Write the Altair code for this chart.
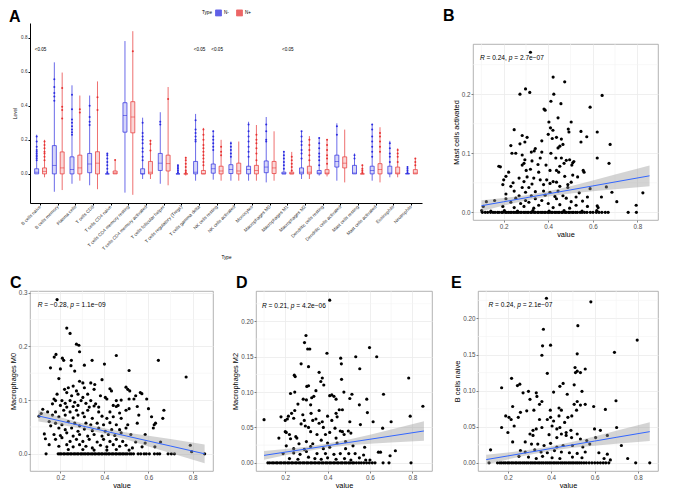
import altair as alt
import pandas as pd

FONT = "Liberation Sans"
BLUE = "#2b2be0"
RED = "#e63232"

# ---------------- Panel A data ----------------
cells = ["B cells naive", "B cells memory", "Plasma cells", "T cells CD8", "T cells CD4 naive",
         "T cells CD4 memory resting", "T cells CD4 memory activated", "T cells follicular helper",
         "T cells regulatory (Tregs)", "T cells gamma delta", "NK cells resting", "NK cells activated",
         "Monocytes", "Macrophages M0", "Macrophages M1", "Macrophages M2", "Dendritic cells resting",
         "Dendritic cells activated", "Mast cells resting", "Mast cells activated", "Eosinophils", "Neutrophils"]
groups = ["N-", "N+"]

neg_lo = [0.0, -0.105, -0.058, -0.067, 0.0, -0.11, -0.03, -0.058, 0.0, -0.04, -0.034, -0.04, -0.04, -0.05, 0.0, -0.03, -0.01, -0.04, 0.0, -0.04, -0.02, 0.0]
neg_q1 = [0.0, 0.0, 0.0, 0.007, 0.0, 0.245, 0.0, 0.02, 0.0, 0.0, 0.004, 0.002, 0.0, 0.007, 0.0, 0.0, 0.0, 0.04, 0.0, 0.0, 0.0, 0.0]
neg_med = [0.01, 0.05, 0.026, 0.058, 0.0, 0.343, 0.0, 0.063, 0.0, 0.01, 0.03, 0.026, 0.026, 0.04, 0.0, 0.01, 0.005, 0.073, 0.005, 0.02, 0.005, 0.0]
neg_q3 = [0.03, 0.166, 0.1, 0.12, 0.0, 0.418, 0.03, 0.12, 0.0, 0.073, 0.058, 0.054, 0.045, 0.076, 0.01, 0.035, 0.02, 0.11, 0.05, 0.045, 0.045, 0.002]
neg_hi = [0.23, 0.655, 0.52, 0.46, 0.12, 0.78, 0.33, 0.362, 0.054, 0.352, 0.254, 0.19, 0.306, 0.334, 0.129, 0.25, 0.213, 0.297, 0.12, 0.293, 0.194, 0.045]

pos_lo = [-0.02, -0.095, -0.04, -0.09, 0.0, -0.123, -0.03, -0.067, -0.01, 0.0, -0.04, -0.04, -0.04, -0.04, 0.0, -0.03, -0.015, -0.05, 0.0, -0.05, -0.02, 0.0]
pos_q1 = [0.0, 0.0, 0.0, 0.0, 0.0, 0.241, 0.0, 0.017, 0.0, 0.0, 0.0, 0.0, 0.0, 0.002, 0.0, 0.0, 0.0, 0.035, 0.0, 0.0, 0.0, 0.0]
pos_med = [0.015, 0.035, 0.035, 0.063, 0.005, 0.334, 0.01, 0.06, 0.0, 0.0, 0.017, 0.017, 0.02, 0.035, 0.0, 0.01, 0.005, 0.063, 0.0, 0.026, 0.005, 0.005]
pos_q3 = [0.035, 0.129, 0.11, 0.13, 0.017, 0.424, 0.073, 0.11, 0.0, 0.02, 0.045, 0.063, 0.05, 0.073, 0.01, 0.045, 0.025, 0.1, 0.0, 0.06, 0.04, 0.025]
pos_hi = [0.2, 0.595, 0.46, 0.543, 0.082, 0.838, 0.2, 0.51, 0.1, 0.27, 0.2, 0.19, 0.287, 0.25, 0.129, 0.222, 0.2, 0.26, 0.054, 0.274, 0.15, 0.09]

neg_out = [
    [0.08, 0.09, 0.1, 0.11, 0.12, 0.13, 0.14, 0.16, 0.19, 0.22],
    [0.43, 0.455, 0.475, 0.51, 0.555],
    [0.23, 0.245, 0.26, 0.28, 0.3, 0.32, 0.38, 0.465],
    [0.287, 0.306, 0.334, 0.4],
    [0.01, 0.03, 0.05, 0.07, 0.09, 0.11, 0.12],
    [],
    [0.08, 0.1, 0.13, 0.15, 0.18, 0.2, 0.22, 0.24, 0.3],
    [0.29, 0.306],
    [0.01, 0.02, 0.03, 0.04, 0.05],
    [0.19, 0.2, 0.22, 0.24, 0.26, 0.315],
    [0.14, 0.16, 0.18, 0.2, 0.22, 0.25],
    [0.1, 0.12, 0.14, 0.16, 0.18],
    [0.1, 0.13, 0.16, 0.19, 0.22, 0.25, 0.29],
    [0.19, 0.2, 0.25, 0.29],
    [0.03, 0.05, 0.07, 0.09, 0.11, 0.13],
    [0.09, 0.12, 0.14, 0.17, 0.19, 0.22, 0.25],
    [0.05, 0.08, 0.1, 0.12, 0.15, 0.18, 0.21],
    [0.23, 0.28],
    [0.09, 0.11],
    [0.1, 0.13, 0.16, 0.19, 0.22, 0.26, 0.29],
    [0.07, 0.1, 0.12, 0.15, 0.18],
    [0.01, 0.02, 0.03, 0.04],
]
pos_out = [
    [0.08, 0.1, 0.12, 0.13, 0.15, 0.17, 0.19],
    [0.325, 0.375, 0.394, 0.505],
    [0.36, 0.38],
    [0.375, 0.45],
    [0.082],
    [0.72],
    [0.138, 0.175, 0.194],
    [0.44],
    [0.01, 0.02, 0.04, 0.06, 0.08, 0.095],
    [0.05, 0.07, 0.09, 0.11, 0.13, 0.15, 0.17, 0.2, 0.23, 0.26],
    [0.11, 0.13, 0.16],
    [],
    [0.08, 0.12, 0.15, 0.18, 0.2, 0.23],
    [],
    [0.02, 0.04, 0.06, 0.08, 0.1],
    [0.08, 0.11, 0.14, 0.17, 0.2],
    [0.06, 0.09, 0.11, 0.14, 0.17, 0.2],
    [],
    [0.01, 0.02, 0.03, 0.05],
    [0.13, 0.16, 0.19, 0.22, 0.24],
    [0.07, 0.1, 0.12, 0.14],
    [0.05, 0.07, 0.09],
]

p_cells = ["B cells naive", "T cells gamma delta", "NK cells resting", "Macrophages M1"]
p_text = ["<0.05", "<0.05", "<0.05", "<0.05"]
p_y = [0.73, 0.73, 0.73, 0.73]

# ---------------- Panels B-E data ----------------
b_pts = [
    (0.32, 0.271), (0.422, 0.229), (0.474, 0.221), (0.298, 0.209), (0.273, 0.200), (0.317, 0.203), (0.425, 0.200),
    (0.642, 0.198), (0.412, 0.188), (0.457, 0.184), (0.588, 0.178), (0.381, 0.175), (0.386, 0.173), (0.444, 0.160),
    (0.403, 0.153), (0.503, 0.153), (0.410, 0.143), (0.247, 0.140), (0.421, 0.139), (0.493, 0.136), (0.547, 0.137),
    (0.620, 0.136), (0.400, 0.132), (0.490, 0.141), (0.283, 0.130), (0.305, 0.127), (0.573, 0.128), (0.418, 0.125),
    (0.437, 0.127), (0.459, 0.124), (0.371, 0.121), (0.295, 0.119), (0.547, 0.119), (0.678, 0.115), (0.232, 0.113),
    (0.273, 0.116), (0.466, 0.115), (0.452, 0.112), (0.342, 0.108), (0.444, 0.109), (0.237, 0.100), (0.254, 0.100),
    (0.283, 0.097), (0.324, 0.102), (0.371, 0.102), (0.337, 0.104), (0.364, 0.092), (0.412, 0.100), (0.434, 0.092),
    (0.459, 0.092), (0.295, 0.089), (0.327, 0.087), (0.481, 0.088), (0.496, 0.089), (0.620, 0.092), (0.291, 0.083),
    (0.283, 0.080), (0.390, 0.080), (0.471, 0.083), (0.510, 0.084), (0.515, 0.086), (0.673, 0.083), (0.178, 0.078),
    (0.185, 0.077), (0.354, 0.081), (0.452, 0.078), (0.506, 0.080), (0.301, 0.071), (0.320, 0.073), (0.357, 0.068),
    (0.222, 0.068), (0.437, 0.071), (0.408, 0.071), (0.447, 0.068), (0.557, 0.071), (0.561, 0.068), (0.510, 0.063),
    (0.474, 0.061), (0.532, 0.060), (0.210, 0.061), (0.269, 0.058), (0.305, 0.060), (0.335, 0.058), (0.364, 0.055),
    (0.393, 0.055), (0.422, 0.052), (0.200, 0.055), (0.196, 0.047), (0.242, 0.050), (0.291, 0.052), (0.327, 0.048),
    (0.379, 0.047), (0.408, 0.049), (0.437, 0.051), (0.488, 0.047), (0.503, 0.051), (0.232, 0.044), (0.283, 0.042),
    (0.313, 0.042), (0.452, 0.044), (0.488, 0.042), (0.588, 0.040), (0.661, 0.043), (0.247, 0.036), (0.298, 0.034),
    (0.342, 0.035), (0.379, 0.036), (0.408, 0.034), (0.444, 0.036), (0.539, 0.033), (0.686, 0.034), (0.825, 0.033),
    (0.210, 0.031), (0.269, 0.028), (0.324, 0.028), (0.386, 0.029), (0.430, 0.027), (0.466, 0.028), (0.525, 0.026),
    (0.576, 0.026), (0.639, 0.026), (0.159, 0.020), (0.210, 0.023), (0.254, 0.024), (0.298, 0.020), (0.342, 0.023),
    (0.371, 0.020), (0.437, 0.023), (0.481, 0.024), (0.503, 0.018), (0.554, 0.019), (0.708, 0.018), (0.122, 0.018),
    (0.232, 0.017), (0.276, 0.015), (0.313, 0.017), (0.357, 0.012), (0.400, 0.015), (0.452, 0.013), (0.525, 0.012),
    (0.620, 0.011), (0.624, 0.008), (0.795, 0.012), (0.196, 0.010), (0.247, 0.008), (0.291, 0.010), (0.335, 0.007),
    (0.422, 0.008), (0.496, 0.007), (0.576, 0.010), (0.108, 0.010), (0.101, 0.003), (0.142, 0.002), (0.203, 0.003),
    (0.262, 0.002), (0.331, 0.003), (0.404, 0.002), (0.471, 0.003), (0.552, 0.002), (0.618, 0.003),
]
b_zero = [0.104, 0.117, 0.128, 0.141, 0.152, 0.161, 0.172, 0.179, 0.19, 0.196, 0.207, 0.213, 0.221, 0.229, 0.235,
          0.244, 0.251, 0.259, 0.265, 0.274, 0.28, 0.29, 0.296, 0.305, 0.311, 0.321, 0.326, 0.336, 0.342, 0.352,
          0.357, 0.367, 0.373, 0.382, 0.388, 0.398, 0.404, 0.413, 0.419, 0.429, 0.435, 0.444, 0.45, 0.46, 0.465,
          0.475, 0.481, 0.491, 0.497, 0.507, 0.513, 0.523, 0.531, 0.543, 0.552, 0.563, 0.574, 0.589, 0.601, 0.616,
          0.628, 0.641, 0.656, 0.669, 0.759, 0.796]
b_fit_x = [0.1, 0.2, 0.3, 0.4, 0.5, 0.6, 0.7, 0.855]
b_fit_y = [0.0112, 0.0179, 0.0246, 0.0313, 0.038, 0.0447, 0.0514, 0.0618]
b_lo = [0.0019, 0.0114, 0.0201, 0.0268, 0.032, 0.0357, 0.0389, 0.0443]
b_hi = [0.0205, 0.0244, 0.0291, 0.0358, 0.044, 0.0537, 0.0639, 0.0793]

c_pts = [
    (0.185, 0.287), (0.229, 0.234), (0.244, 0.224), (0.273, 0.204), (0.284, 0.202), (0.287, 0.190), (0.172, 0.180),
    (0.180, 0.185), (0.454, 0.183), (0.344, 0.174), (0.209, 0.178), (0.215, 0.174), (0.250, 0.174), (0.248, 0.164),
    (0.309, 0.165), (0.400, 0.167), (0.645, 0.174), (0.771, 0.143), (0.155, 0.160), (0.200, 0.158), (0.265, 0.154),
    (0.512, 0.155), (0.193, 0.140), (0.389, 0.138), (0.287, 0.135), (0.302, 0.132), (0.338, 0.132), (0.356, 0.129),
    (0.219, 0.120), (0.236, 0.123), (0.258, 0.126), (0.273, 0.117), (0.309, 0.123), (0.353, 0.120), (0.425, 0.121),
    (0.432, 0.117), (0.498, 0.124), (0.506, 0.120), (0.515, 0.117), (0.171, 0.102), (0.185, 0.111), (0.229, 0.114),
    (0.251, 0.108), (0.280, 0.111), (0.302, 0.105), (0.324, 0.111), (0.382, 0.108), (0.404, 0.105), (0.563, 0.114),
    (0.570, 0.112), (0.542, 0.108), (0.178, 0.099), (0.207, 0.099), (0.222, 0.094), (0.244, 0.099), (0.265, 0.096),
    (0.294, 0.099), (0.316, 0.094), (0.338, 0.099), (0.360, 0.093), (0.411, 0.102), (0.454, 0.099), (0.476, 0.100),
    (0.512, 0.102), (0.534, 0.102), (0.592, 0.102), (0.164, 0.093), (0.200, 0.090), (0.229, 0.087), (0.258, 0.088),
    (0.280, 0.090), (0.331, 0.087), (0.353, 0.089), (0.374, 0.087), (0.440, 0.090), (0.454, 0.088), (0.462, 0.090),
    (0.549, 0.088), (0.600, 0.084), (0.670, 0.081), (0.120, 0.083), (0.142, 0.078), (0.178, 0.078), (0.215, 0.081),
    (0.244, 0.078), (0.273, 0.081), (0.302, 0.076), (0.324, 0.081), (0.374, 0.078), (0.425, 0.078), (0.469, 0.076),
    (0.498, 0.081), (0.512, 0.084), (0.103, 0.070), (0.113, 0.075), (0.164, 0.072), (0.193, 0.069), (0.222, 0.072),
    (0.258, 0.067), (0.280, 0.072), (0.309, 0.069), (0.345, 0.066), (0.389, 0.070), (0.411, 0.066), (0.440, 0.069),
    (0.476, 0.066), (0.556, 0.072), (0.614, 0.069), (0.665, 0.066), (0.149, 0.060), (0.178, 0.057), (0.207, 0.054),
    (0.236, 0.060), (0.265, 0.057), (0.287, 0.052), (0.316, 0.057), (0.338, 0.054), (0.367, 0.057), (0.396, 0.054),
    (0.425, 0.058), (0.454, 0.054), (0.506, 0.054), (0.549, 0.057), (0.626, 0.054), (0.632, 0.057), (0.156, 0.052),
    (0.193, 0.048), (0.222, 0.045), (0.251, 0.048), (0.280, 0.042), (0.309, 0.046), (0.345, 0.043), (0.374, 0.048),
    (0.404, 0.042), (0.433, 0.045), (0.469, 0.045), (0.498, 0.048), (0.622, 0.048), (0.127, 0.037), (0.171, 0.036),
    (0.200, 0.034), (0.229, 0.039), (0.258, 0.033), (0.287, 0.036), (0.324, 0.033), (0.353, 0.036), (0.389, 0.033),
    (0.418, 0.036), (0.447, 0.034), (0.476, 0.039), (0.520, 0.036), (0.585, 0.036), (0.132, 0.028), (0.178, 0.027),
    (0.207, 0.030), (0.244, 0.023), (0.273, 0.027), (0.302, 0.023), (0.331, 0.027), (0.367, 0.022), (0.396, 0.027),
    (0.425, 0.023), (0.454, 0.027), (0.483, 0.023), (0.542, 0.022), (0.585, 0.020), (0.655, 0.022), (0.149, 0.017),
    (0.193, 0.014), (0.229, 0.017), (0.258, 0.013), (0.287, 0.017), (0.316, 0.014), (0.345, 0.011), (0.382, 0.016),
    (0.411, 0.013), (0.440, 0.017), (0.469, 0.014), (0.498, 0.016), (0.527, 0.011), (0.571, 0.013), (0.629, 0.013),
    (0.790, 0.016), (0.796, 0.004), (0.236, 0.008), (0.302, 0.008), (0.353, 0.007), (0.411, 0.007), (0.454, 0.008),
    (0.512, 0.007),
]
c_zero = [0.135, 0.19, 0.198, 0.204, 0.214, 0.22, 0.23, 0.236, 0.245, 0.251, 0.261, 0.267, 0.276, 0.282, 0.292,
          0.298, 0.307, 0.314, 0.323, 0.329, 0.339, 0.346, 0.355, 0.361, 0.371, 0.377, 0.386, 0.392, 0.402, 0.409,
          0.418, 0.424, 0.434, 0.44, 0.45, 0.456, 0.466, 0.472, 0.481, 0.488, 0.497, 0.504, 0.515, 0.522, 0.532,
          0.553, 0.565, 0.58, 0.59, 0.604, 0.627, 0.641, 0.651, 0.689, 0.704, 0.718, 0.855]
c_fit_x = [0.1, 0.2, 0.3, 0.4, 0.5, 0.6, 0.7, 0.855]
c_fit_y = [0.0705, 0.0612, 0.0518, 0.0425, 0.0331, 0.0238, 0.0145, 0.0]
c_lo = [0.06, 0.0542, 0.0468, 0.0375, 0.0266, 0.0138, 0.0015, -0.0175]
c_hi = [0.081, 0.0682, 0.0568, 0.0475, 0.0396, 0.0338, 0.0275, 0.0175]

d_pts = [
    (0.41, 0.230), (0.298, 0.180), (0.291, 0.170), (0.306, 0.161), (0.316, 0.161), (0.397, 0.155), (0.598, 0.163),
    (0.533, 0.150), (0.632, 0.150), (0.462, 0.148), (0.465, 0.140), (0.275, 0.140), (0.31, 0.136), (0.552, 0.133),
    (0.36, 0.128), (0.243, 0.124), (0.247, 0.122), (0.375, 0.120), (0.368, 0.115), (0.466, 0.118), (0.783, 0.120),
    (0.382, 0.110), (0.302, 0.108), (0.31, 0.109), (0.345, 0.102), (0.245, 0.100), (0.225, 0.098), (0.477, 0.100),
    (0.42, 0.096), (0.43, 0.094), (0.41, 0.095), (0.44, 0.090), (0.335, 0.094), (0.325, 0.092), (0.285, 0.090),
    (0.30, 0.089), (0.505, 0.091), (0.515, 0.097), (0.585, 0.090), (0.664, 0.097), (0.26, 0.083), (0.32, 0.082),
    (0.55, 0.082), (0.588, 0.071), (0.85, 0.080), (0.245, 0.074), (0.23, 0.070), (0.215, 0.066), (0.18, 0.065),
    (0.283, 0.068), (0.322, 0.070), (0.36, 0.074), (0.40, 0.066), (0.445, 0.065), (0.455, 0.075), (0.47, 0.075),
    (0.44, 0.070), (0.10, 0.061), (0.20, 0.060), (0.21, 0.062), (0.24, 0.063), (0.29, 0.060), (0.33, 0.060),
    (0.345, 0.062), (0.36, 0.056), (0.375, 0.058), (0.42, 0.060), (0.505, 0.058), (0.555, 0.054), (0.615, 0.058),
    (0.70, 0.058), (0.79, 0.066), (0.275, 0.055), (0.295, 0.052), (0.31, 0.050), (0.38, 0.050), (0.435, 0.049),
    (0.46, 0.045), (0.47, 0.044), (0.498, 0.045), (0.66, 0.049), (0.20, 0.044), (0.205, 0.043), (0.22, 0.040),
    (0.25, 0.037), (0.255, 0.035), (0.32, 0.044), (0.35, 0.040), (0.39, 0.040), (0.41, 0.043), (0.44, 0.035),
    (0.478, 0.040), (0.51, 0.042), (0.17, 0.035), (0.225, 0.034), (0.265, 0.027), (0.30, 0.030), (0.33, 0.027),
    (0.37, 0.032), (0.40, 0.028), (0.445, 0.028), (0.485, 0.030), (0.52, 0.024), (0.575, 0.022), (0.205, 0.024),
    (0.24, 0.020), (0.29, 0.019), (0.32, 0.023), (0.38, 0.020), (0.41, 0.022), (0.485, 0.020), (0.50, 0.013),
    (0.64, 0.015), (0.65, 0.015), (0.72, 0.017), (0.19, 0.013), (0.24, 0.014), (0.27, 0.012), (0.30, 0.016),
    (0.35, 0.013), (0.39, 0.013), (0.43, 0.012), (0.46, 0.013), (0.53, 0.013), (0.57, 0.011), (0.695, 0.010),
    (0.22, 0.006), (0.26, 0.005), (0.31, 0.008), (0.34, 0.006), (0.37, 0.005), (0.40, 0.007), (0.44, 0.005),
    (0.48, 0.006), (0.51, 0.004), (0.55, 0.007), (0.58, 0.004), (0.60, 0.004),
]
d_zero = [0.118, 0.127, 0.138, 0.146, 0.157, 0.164, 0.175, 0.182, 0.193, 0.2, 0.211, 0.218, 0.229, 0.236, 0.247,
          0.254, 0.265, 0.272, 0.283, 0.29, 0.301, 0.308, 0.319, 0.326, 0.337, 0.344, 0.355, 0.362, 0.373, 0.38,
          0.391, 0.398, 0.409, 0.416, 0.427, 0.434, 0.445, 0.452, 0.463, 0.47, 0.481, 0.488, 0.499, 0.506, 0.517,
          0.524, 0.536, 0.548, 0.559, 0.571, 0.584, 0.597, 0.611, 0.624, 0.662, 0.69, 0.794]
d_fit_x = [0.1, 0.2, 0.3, 0.4, 0.5, 0.6, 0.7, 0.855]
d_fit_y = [0.0105, 0.0151, 0.0196, 0.0242, 0.0288, 0.0333, 0.0379, 0.045]
d_lo = [0.0043, 0.0106, 0.0164, 0.0212, 0.0248, 0.0268, 0.0287, 0.0312]
d_hi = [0.0167, 0.0196, 0.0228, 0.0272, 0.0328, 0.0398, 0.0471, 0.0588]

e_pts = [
    (0.378, 0.228), (0.583, 0.223), (0.523, 0.190), (0.364, 0.185), (0.797, 0.170), (0.36, 0.162), (0.397, 0.163),
    (0.357, 0.149), (0.52, 0.151), (0.692, 0.153), (0.382, 0.124), (0.52, 0.127), (0.535, 0.125), (0.557, 0.130),
    (0.51, 0.132), (0.512, 0.125), (0.217, 0.117), (0.171, 0.104), (0.244, 0.107), (0.255, 0.109), (0.27, 0.097),
    (0.295, 0.099), (0.331, 0.097), (0.411, 0.098), (0.474, 0.095), (0.506, 0.108), (0.44, 0.106), (0.455, 0.110),
    (0.542, 0.099), (0.302, 0.088), (0.334, 0.092), (0.357, 0.085), (0.52, 0.085), (0.557, 0.081), (0.596, 0.078),
    (0.699, 0.086), (0.65, 0.074), (0.222, 0.078), (0.258, 0.070), (0.287, 0.072), (0.32, 0.073), (0.346, 0.081),
    (0.396, 0.073), (0.436, 0.076), (0.447, 0.073), (0.517, 0.073), (0.506, 0.081), (0.535, 0.080), (0.19, 0.065),
    (0.205, 0.063), (0.215, 0.060), (0.248, 0.063), (0.346, 0.060), (0.382, 0.060), (0.397, 0.063), (0.411, 0.058),
    (0.436, 0.065), (0.462, 0.056), (0.477, 0.063), (0.495, 0.065), (0.171, 0.049), (0.2, 0.042), (0.229, 0.051),
    (0.316, 0.045), (0.331, 0.047), (0.357, 0.049), (0.404, 0.051), (0.426, 0.047), (0.44, 0.049), (0.469, 0.042),
    (0.491, 0.045), (0.52, 0.040), (0.6, 0.047), (0.627, 0.045), (0.702, 0.049), (0.302, 0.040), (0.316, 0.038),
    (0.39, 0.039), (0.426, 0.035), (0.447, 0.040), (0.469, 0.038), (0.494, 0.035), (0.535, 0.033), (0.564, 0.031),
    (0.605, 0.035), (0.659, 0.038), (0.222, 0.029), (0.28, 0.029), (0.309, 0.026), (0.338, 0.026), (0.367, 0.024),
    (0.397, 0.027), (0.426, 0.022), (0.455, 0.024), (0.498, 0.024), (0.546, 0.022), (0.578, 0.026), (0.724, 0.024),
    (0.12, 0.018), (0.258, 0.017), (0.28, 0.015), (0.324, 0.018), (0.353, 0.015), (0.382, 0.014), (0.415, 0.017),
    (0.447, 0.015), (0.484, 0.014), (0.52, 0.013), (0.557, 0.015), (0.62, 0.014), (0.659, 0.012), (0.251, 0.009),
    (0.295, 0.008), (0.331, 0.006), (0.36, 0.009), (0.404, 0.007), (0.44, 0.006), (0.498, 0.008), (0.542, 0.007),
    (0.644, 0.006), (0.673, 0.004), (0.753, 0.006),
]
e_zero = [0.113, 0.152, 0.163, 0.171, 0.181, 0.189, 0.199, 0.206, 0.216, 0.224, 0.234, 0.241, 0.251, 0.259, 0.269,
          0.277, 0.286, 0.294, 0.304, 0.312, 0.321, 0.329, 0.339, 0.347, 0.356, 0.364, 0.374, 0.382, 0.391, 0.399,
          0.409, 0.417, 0.426, 0.434, 0.444, 0.452, 0.461, 0.469, 0.479, 0.487, 0.496, 0.504, 0.514, 0.522, 0.531,
          0.54, 0.551, 0.562, 0.575, 0.588, 0.601, 0.614, 0.627, 0.64, 0.652, 0.666, 0.79, 0.855]
e_fit_x = [0.1, 0.2, 0.3, 0.4, 0.5, 0.6, 0.7, 0.855]
e_fit_y = [0.0045, 0.0096, 0.0147, 0.0199, 0.025, 0.0301, 0.0353, 0.0432]
e_lo = [-0.0022, 0.0048, 0.0113, 0.0167, 0.0208, 0.0236, 0.0263, 0.0302]
e_hi = [0.0112, 0.0144, 0.0181, 0.0231, 0.0292, 0.0366, 0.0443, 0.0562]

# correlation labels: (R value text, p value text)
b_stat = ("0.24", "2.7e\u221207")
c_stat = ("\u22120.28", "1.1e\u221209")
d_stat = ("0.21", "4.2e\u221206")
e_stat = ("0.24", "2.1e\u221207")

# approximate Arial/Liberation Sans advance widths (em) for placing the label pieces
CHAR_W = {"R": 0.722, " ": 0.278, "=": 0.584, ".": 0.278, ",": 0.278, "p": 0.556, "e": 0.556, "\u2212": 0.584}


def text_w(s, fs):
    return sum(CHAR_W.get(ch, 0.556) for ch in s) * fs


def letter_layer(letter, dx, dy):
    return alt.Chart(pd.DataFrame({"t": [letter]})).mark_text(
        align="left", baseline="alphabetic", fontSize=16, fontWeight="bold", color="black"
    ).encode(text="t:N", x=alt.value(dx), y=alt.value(dy))


# ---------------- Panel A ----------------
box_rows = []
for i, c in enumerate(cells):
    box_rows.append(dict(cell=c, grp="N-", lo=neg_lo[i], q1=neg_q1[i], med=neg_med[i], q3=neg_q3[i], hi=neg_hi[i]))
    box_rows.append(dict(cell=c, grp="N+", lo=pos_lo[i], q1=pos_q1[i], med=pos_med[i], q3=pos_q3[i], hi=pos_hi[i]))
box_df = pd.DataFrame(box_rows)
out_rows = []
for i, c in enumerate(cells):
    for v in neg_out[i]:
        out_rows.append(dict(cell=c, grp="N-", v=v))
    for v in pos_out[i]:
        out_rows.append(dict(cell=c, grp="N+", v=v))
out_df = pd.DataFrame(out_rows)
p_df = pd.DataFrame({"cell": p_cells, "t": p_text, "py": p_y})

SMALL = 4.6
xA = alt.X("cell:N", sort=cells,
           scale=alt.Scale(domain=cells, paddingInner=0, paddingOuter=0.1),
           axis=alt.Axis(title="Type", labelAngle=315, labelAlign="right", labelBaseline="middle",
                         labelFontSize=SMALL, titleFontSize=SMALL, titleFontWeight="normal",
                         labelColor="#333333", tickSize=2, tickColor="black", domainColor="black",
                         labelPadding=1, titlePadding=4, labelOverlap=False, labelLimit=0))
xoffA = alt.XOffset("grp:N", sort=groups, scale=alt.Scale(domain=groups, paddingInner=0, paddingOuter=0.125))
yscaleA = alt.Scale(domain=[-0.171, 0.886], nice=False, zero=False)
yaxisA = alt.Axis(values=[0, 0.2, 0.4, 0.6, 0.8], format=".1f", title="Level", grid=False,
                  labelFontSize=SMALL, titleFontSize=SMALL, titleFontWeight="normal", labelColor="#333333",
                  tickSize=2, tickColor="black", domainColor="black", labelPadding=1, titlePadding=3)
cscale = alt.Scale(domain=groups, range=[BLUE, RED])
legA = alt.Legend(title="Type", orient="none", legendX=172, legendY=-14, direction="horizontal",
                  titleOrient="left", titleFontSize=SMALL, labelFontSize=SMALL, titleFontWeight="normal",
                  symbolType="square", symbolSize=36, symbolStrokeWidth=0.8, titlePadding=3,
                  columnPadding=5, labelOffset=2, titleColor="black", labelColor="black", symbolOpacity=0.75)
colA = alt.Color("grp:N", scale=cscale, legend=legA)


def ya(field):
    return alt.Y(field, scale=yscaleA, axis=yaxisA, title="Level")


rule = alt.Chart(box_df).mark_rule(strokeWidth=0.7).encode(x=xA, xOffset=xoffA, y=ya("lo:Q"), y2="hi:Q", color=colA)
boxwhite = alt.Chart(box_df).mark_bar(size=4, color="white", strokeWidth=0).encode(
    x=xA, xOffset=xoffA, y=ya("q1:Q"), y2="q3:Q")
boxfill = alt.Chart(box_df).mark_bar(size=4, fillOpacity=0.2, strokeWidth=0).encode(
    x=xA, xOffset=xoffA, y=ya("q1:Q"), y2="q3:Q", color=colA)
boxline = alt.Chart(box_df).mark_bar(size=4, filled=False, strokeWidth=0.7).encode(
    x=xA, xOffset=xoffA, y=ya("q1:Q"), y2="q3:Q", color=colA)
med = alt.Chart(box_df).mark_tick(orient="horizontal", size=4, thickness=0.8).encode(
    x=xA, xOffset=xoffA, y=ya("med:Q"), color=colA)
outl = alt.Chart(out_df).mark_circle(size=4, opacity=1).encode(x=xA, xOffset=xoffA, y=ya("v:Q"), color=colA)
ptxt = alt.Chart(p_df).mark_text(fontSize=SMALL, color="black").encode(x=xA, y=ya("py:Q"), text="t:N")

chartA = alt.layer(rule, boxwhite, boxfill, boxline, med, outl, ptxt, letter_layer("A", -21, -1)).properties(
    width=392, height=180)

# ---------------- scatter panels ----------------
XDOM = [0.062, 0.893]
FS_LAB = 6.6


def scatter(pts, zeros, fx, fy, blo, bhi, ytitle, yvals, yfmt, ydom, yminor, stat, lx, ly, letter, dx, dy, w, h):
    pdf = pd.DataFrame({"x": [p[0] for p in pts] + zeros, "y": [p[1] for p in pts] + [0.0] * len(zeros)})
    fdf = pd.DataFrame({"x": fx, "fit": fy, "lo": blo, "hi": bhi})
    xsc = alt.Scale(domain=XDOM, nice=False, zero=False)
    ysc = alt.Scale(domain=ydom, nice=False, zero=False)
    xax = alt.Axis(values=[0.2, 0.4, 0.6, 0.8], format=".1f", title="value", grid=True, gridColor="#ebebeb",
                   gridWidth=0.8, domain=False, labelFontSize=6.3, labelColor="#4d4d4d", tickColor="#333333",
                   tickSize=2, tickWidth=0.6, labelPadding=1, titleFontSize=7.4, titleFontWeight="normal",
                   titlePadding=1, titleColor="black")
    yax = alt.Axis(values=yvals, format=yfmt, title=ytitle, grid=True, gridColor="#ebebeb", gridWidth=0.8,
                   domain=False, labelFontSize=6.3, labelColor="#4d4d4d", tickColor="#333333", tickSize=2,
                   tickWidth=0.6, labelPadding=1, titleFontSize=7.4, titleFontWeight="normal", titlePadding=1,
                   titleColor="black")
    X = lambda f: alt.X(f, scale=xsc, axis=xax, title="value")
    Y = lambda f: alt.Y(f, scale=ysc, axis=yax, title=ytitle)
    mx = alt.Chart(pd.DataFrame({"m": [0.1, 0.3, 0.5, 0.7]})).mark_rule(color="#f4f4f4", strokeWidth=0.6).encode(
        x=X("m:Q"))
    my = alt.Chart(pd.DataFrame({"m": yminor})).mark_rule(color="#f4f4f4", strokeWidth=0.6).encode(y=Y("m:Q"))
    dots = alt.Chart(pdf).mark_circle(size=10, color="black", opacity=1).encode(x=X("x:Q"), y=Y("y:Q"))
    band = alt.Chart(fdf).mark_area(color="#999999", opacity=0.42).encode(x=X("x:Q"), y=Y("lo:Q"), y2="hi:Q")
    line = alt.Chart(fdf).mark_line(color="#3366FF", strokeWidth=1).encode(x=X("x:Q"), y=Y("fit:Q"))
    # "R = r, p = pv" with italic R and p, drawn as four pieces
    s1 = "= " + stat[0] + ","
    s2 = "= " + stat[1]
    o1 = text_w("R ", FS_LAB)
    o2 = o1 + text_w(s1 + " ", FS_LAB)
    o3 = o2 + text_w("p ", FS_LAB)
    pieces = [("R", 0.0, "italic"), (s1, o1, "normal"), ("p", o2, "italic"), (s2, o3, "normal")]
    tdf = pd.DataFrame({"x": [lx], "y": [ly]})
    txts = [alt.Chart(tdf).mark_text(align="left", baseline="middle", fontSize=FS_LAB, color="black",
                                     text=t, dx=o, fontStyle=st).encode(x=X("x:Q"), y=Y("y:Q"))
            for t, o, st in pieces]
    layers = [mx, my, dots, band, line] + txts
    if letter:
        layers.append(letter_layer(letter, dx, dy))
    return alt.layer(*layers).properties(
        width=w, height=h,
        view=alt.ViewBackground(stroke="#a0a0a0", strokeWidth=0.8, fill="white"))


chartB = scatter(b_pts, b_zero, b_fit_x, b_fit_y, b_lo, b_hi, "Mast cells activated", [0, 0.1, 0.2], ".1f",
                 [-0.013, 0.285], [0.05, 0.15, 0.25], b_stat, 0.093, 0.261, None, 0, 0, 185, 176)
chartC = scatter(c_pts, c_zero, c_fit_x, c_fit_y, c_lo, c_hi, "Macrophages M0", [0, 0.1, 0.2, 0.3], ".1f",
                 [-0.032, 0.303], [0.05, 0.15, 0.25], c_stat, 0.097, 0.277, "C", -20, -3, 183, 180)
chartD = scatter(d_pts, d_zero, d_fit_x, d_fit_y, d_lo, d_hi, "Macrophages M2", [0, 0.05, 0.1, 0.15, 0.2], ".2f",
                 [-0.0116, 0.243], [0.025, 0.075, 0.125, 0.175, 0.225], d_stat, 0.09, 0.222, "D", -20, -3, 176, 180)
chartE = scatter(e_pts, e_zero, e_fit_x, e_fit_y, e_lo, e_hi, "B cells naive", [0, 0.05, 0.1, 0.15, 0.2], ".2f",
                 [-0.0113, 0.238], [0.025, 0.075, 0.125, 0.175, 0.225], e_stat, 0.11, 0.2186, "E", -27, -3, 180, 180)

# spacer carrying the "B" label, pushes panel B down under it
spacerB = alt.layer(letter_layer("B", -30, -2)).properties(width=185, height=20)

row1 = alt.hconcat(chartA, alt.vconcat(spacerB, chartB, spacing=0), spacing=21)
row2 = alt.hconcat(chartC, chartD, chartE, spacing=17)
chart = alt.vconcat(row1, row2, spacing=14).properties(padding=0).configure(font=FONT).configure_view(stroke=None)

chart.save("out.html", embed_options={"renderer": "svg", "actions": False})
